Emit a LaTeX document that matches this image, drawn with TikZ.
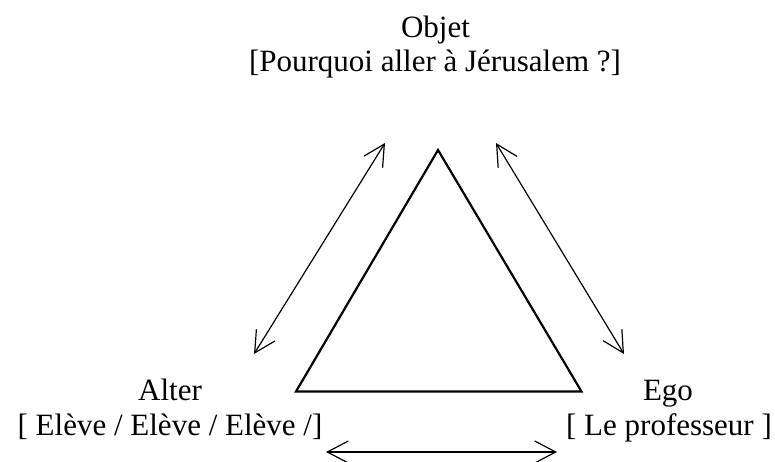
\documentclass[tikz,border=0pt]{standalone}
\usepackage{fontspec}
\setmainfont{Liberation Serif}
\usetikzlibrary{arrows.meta}
\begin{document}
\begin{tikzpicture}[x=1pt,y=-1pt,
  lbl/.style={anchor=base,inner sep=0pt,font=\fontsize{31}{31}\selectfont},
  tri/.style={line width=2.2pt,line join=miter},
  rel/.style={line width=1.2pt,{Straight Barb[length=21pt,width=22pt,line width=1.2pt]}-{Straight Barb[length=21pt,width=22pt,line width=1.2pt]}}]
\useasboundingbox (0,0) rectangle (775,461);
% labels
\node[lbl] (objet)  at (435.5,37.5) {Objet};
\node[lbl] (objetq) at (435,71) {[Pourquoi aller à Jérusalem ?]};
\node[lbl] (alter)  at (170,400.5) {Alter};
\node[lbl] (alterq) at (170,435) {[ Elève / Elève / Elève /]};
\node[lbl] (ego)    at (668,400.5) {Ego};
\node[lbl] (egoq)   at (669,435) {[ Le professeur ]};
% triangle
\coordinate (apex) at (438,150);
\coordinate (bl) at (296,391.5);
\coordinate (br) at (581.5,391.5);
\draw[tri] (apex) -- (bl) -- (br) -- cycle;
% arrows
\coordinate (la) at (254,354);
\coordinate (lb) at (385,143);
\coordinate (ra) at (496,143);
\coordinate (rb) at (624,354);
\coordinate (ba) at (326,452);
\coordinate (bb) at (557,452);
\draw[rel] (la) -- (lb);
\draw[rel] (ra) -- (rb);
\draw[rel] (ba) -- (bb);
\end{tikzpicture}
\end{document}
